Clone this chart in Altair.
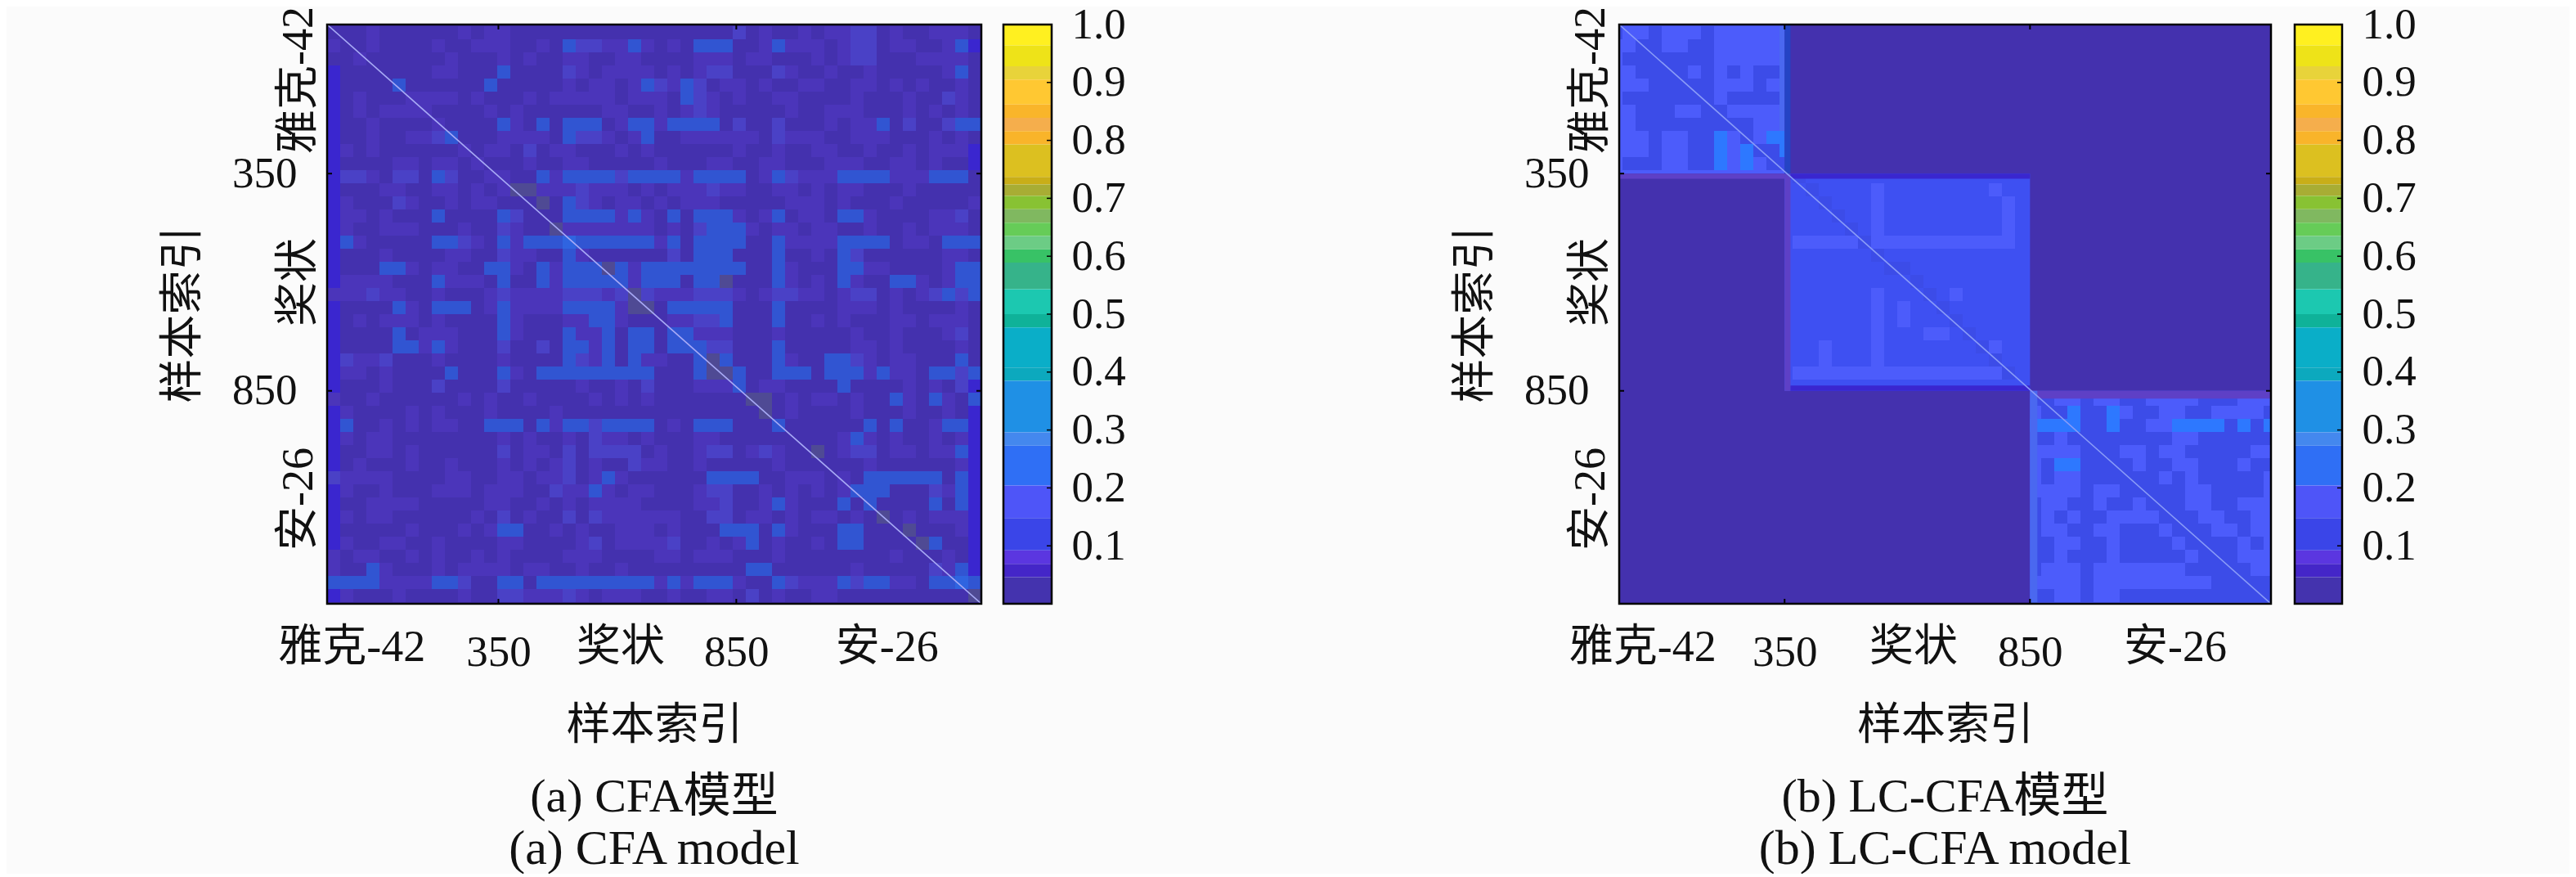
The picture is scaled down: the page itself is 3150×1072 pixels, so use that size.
import altair as alt
import pandas as pd

FONT = "Liberation Serif, Noto Sans CJK SC"
BG = "#FBFBFB"
TXT = "#111111"

# heat colours
level_names = ["bg", "f1", "e", "f2", "f3", "f4", "g", "d", "m", "l", "b", "c", "p", "v"]
level_colors = ["#4431AE", "#4B35BA", "#3A26CF", "#4A41C6", "#3155D2", "#2F64E0", "#4F4A94",
                "#3C4CE8", "#3E50F2", "#4C5CFB", "#2D78FF", "#4A68F0", "#5E40C6", "#2444C4"]

# colour bar bands, read top to bottom
band_edges = [1.0, 0.964, 0.928, 0.905, 0.862, 0.839, 0.816, 0.793, 0.737, 0.724, 0.704,
              0.681, 0.658, 0.635, 0.612, 0.589, 0.543, 0.500, 0.477, 0.408, 0.385,
              0.296, 0.273, 0.204, 0.148, 0.092, 0.069, 0.046, 0.0]
band_colors = ["#FFF020", "#EEE318", "#E8D33A", "#FFC832", "#F9B52A", "#F5AE4C", "#F9B42A",
               "#DCC020", "#C9AE18", "#A8AD34", "#88C233", "#80B860", "#66CC58", "#6CCC85",
               "#38C266", "#36B38A", "#1CC8B0", "#0FB299", "#0AAEC8", "#0CA9BE",
               "#1F90E5", "#4488EE", "#2F6FF5", "#4E55F8", "#3A45E8", "#5B36E0", "#4426C8", "#4433AE"]
colorbar_ticks = [0.1, 0.2, 0.3, 0.4, 0.5, 0.6, 0.7, 0.8, 0.9, 1.0]

# panel (a): raised cells of each row, by brightness level
cfa_rows = [
    {1: [3, 10, 12, 13, 33, 36, 38, 39, 43, 46, 47, 48], 2: [31, 40, 41]},
    {1: [0, 3, 8, 11, 12, 13, 16, 21, 22, 24, 26, 33, 35, 36, 37, 39, 43, 44, 47], 2: [19, 20, 40, 41], 3: [18, 23, 28, 29, 30, 34, 48]},
    {1: [2, 9, 13, 15, 18, 19, 22, 23, 28, 29, 30, 32, 33, 37, 39, 45, 46, 47, 48], 2: [40, 41]},
    {1: [8, 9, 19, 21, 22, 23, 24, 26, 28, 35, 38, 41, 47], 2: [18, 29, 30, 34], 3: [13, 48]},
    {1: [18, 20, 21, 23, 26, 30, 31, 33, 36, 37, 40, 41, 43, 45, 48], 2: [25, 28], 3: [5, 12, 24, 27]},
    {1: [2, 6, 7, 8, 9, 11, 15, 17, 18, 19, 20, 21, 23, 24, 25, 29, 31, 34, 35, 40, 44, 48], 2: [28, 47], 3: [27]},
    {1: [2, 4, 5, 6, 7, 12, 14, 21, 22, 25, 27, 29, 35, 38, 39, 40, 44, 46, 48], 2: [28]},
    {1: [3, 8, 14, 22, 25, 38, 40, 41], 2: [31, 34, 44, 47], 3: [13, 16, 18, 19, 20, 23, 24, 26, 27, 28, 29, 42, 48, 49]},
    {1: [3, 6, 7, 13, 14, 15, 16, 21, 23, 27, 28, 29, 30, 31, 32, 35, 36, 37, 40, 41, 42, 46, 48], 2: [8, 19, 20, 34], 3: [9, 18, 24]},
    {1: [1, 3, 10, 12, 13, 17, 18, 22, 24, 31, 34, 37, 38, 41, 44, 46, 47, 48], 2: [15]},
    {1: [5, 6, 8, 9, 11, 15, 18, 19, 25, 29, 30, 33, 34, 38, 39, 40, 43, 44, 46]},
    {1: [3, 12, 13, 17, 27, 33, 36, 37, 38, 43, 44, 45], 2: [1, 2, 5, 6, 9, 22, 35], 3: [8, 16, 18, 19, 20, 21, 23, 24, 25, 26, 28, 29, 30, 31, 34, 39, 40, 41, 42, 46, 47, 48]},
    {1: [4, 5, 8, 9, 11, 13, 16, 17, 18, 20, 21, 22, 24, 26, 27, 28, 30, 31, 34, 35, 37, 39, 40, 44], 2: [19, 29], 5: [14, 15]},
    {1: [1, 6, 9, 11, 12, 20, 22, 23, 25, 27, 28, 29, 35, 36, 37, 39, 43, 49], 2: [5, 19], 3: [18], 5: [16]},
    {1: [1, 2, 4, 22, 24, 31, 33, 36, 37, 41, 46, 47], 2: [14, 48], 3: [8, 13, 18, 19, 20, 21, 23, 26, 28, 29, 30, 34, 39, 40]},
    {1: [1, 4, 5, 6, 10, 14, 18, 19, 20, 21, 22, 23, 24, 26, 32, 34, 35, 37, 38, 41, 44, 46, 47, 48], 2: [13, 28], 3: [29, 30, 31], 5: [17]},
    {1: [2, 11, 14, 25, 35, 36, 37, 38, 44, 45], 2: [10], 3: [1, 8, 9, 13, 15, 16, 17, 19, 20, 21, 22, 23, 24, 26, 28, 29, 30, 31, 34, 39, 40, 41, 42, 47, 48, 49], 4: [18]},
    {1: [4, 9, 10, 14, 15, 19, 37, 47, 48], 2: [13, 26, 40], 3: [18, 28, 29, 30, 34, 39]},
    {1: [6, 8, 9, 14, 17, 23, 35, 41, 42, 47], 3: [4, 5, 12, 13, 16, 18, 19, 20, 22, 24, 25, 26, 27, 28, 29, 30, 31, 34, 39, 40, 48, 49], 5: [21]},
    {1: [1, 2, 3, 4, 9, 10, 11, 17, 23, 35, 37, 40, 45, 47], 3: [8, 13, 16, 18, 19, 20, 21, 22, 24, 25, 26, 28, 29, 34, 39, 43, 44, 48, 49], 5: [30]},
    {1: [0, 1, 2, 4, 5, 8, 12, 14, 15, 16, 17, 21, 25, 26, 27, 31, 33, 36, 37, 39, 43, 45], 2: [3, 13, 18, 19, 20, 22, 24, 28, 29, 30, 34, 35, 40, 41, 46, 48], 3: [47, 49], 5: [23]},
    {1: [6, 12, 14, 15, 16, 17, 22, 39, 40, 41, 43, 48], 3: [5, 8, 9, 10, 13, 18, 19, 20, 21, 26, 27, 28, 29, 30, 34], 5: [23, 24]},
    {1: [2, 4, 5, 6, 8, 14, 18, 19, 22, 26, 27, 37, 39, 43, 44, 46, 47, 48], 2: [28, 29], 3: [13, 20, 21, 30, 34]},
    {1: [7, 8, 9, 14, 19, 20, 28, 29, 30, 34, 40, 43, 47], 2: [48], 3: [5, 13, 18, 21, 23, 24, 26, 27]},
    {1: [7, 9, 20, 40, 41, 43, 48], 2: [13, 16, 29, 30], 3: [5, 6, 8, 18, 19, 21, 23, 24, 26, 27, 28, 34]},
    {1: [2, 3, 8, 13, 20, 24, 25, 35, 41, 43, 44], 2: [1, 4, 19, 40], 3: [18, 21, 23, 28, 30, 34, 38, 39, 48], 5: [29]},
    {1: [1, 2, 4, 14, 41, 43, 44], 2: [48], 3: [9, 13, 16, 17, 18, 19, 20, 21, 22, 23, 24, 28, 31, 34, 35, 36, 38, 39, 40, 42, 46, 47, 49], 5: [29, 30]},
    {1: [4, 19, 22, 28, 29, 30, 33, 34, 44, 46], 2: [8, 13, 24, 48], 3: [31, 39]},
    {1: [0, 3, 10, 12, 15, 20, 22, 24, 35, 37, 38, 40, 44, 47], 3: [43, 46, 49], 5: [32, 33]},
    {1: [1, 6, 8, 12, 17, 35, 40, 44, 47], 5: [33]},
    {1: [4, 6, 8, 9, 17, 26, 46], 2: [20, 24], 3: [1, 12, 13, 14, 16, 18, 19, 21, 22, 23, 24, 28, 29, 30, 34, 41, 43, 47, 48]},
    {1: [1, 3, 4, 13, 15, 18, 21, 22, 24, 28, 29, 39, 41, 43, 46, 48], 2: [20], 3: [40]},
    {1: [3, 4, 6, 15, 16, 25, 28, 32, 34, 39, 43, 44, 46, 47], 2: [13, 18, 20, 21, 22, 23, 29, 30, 33, 40, 41], 3: [48], 5: [37]},
    {1: [2, 6, 9, 13, 15, 17, 20, 24, 25, 28, 34, 41, 48], 2: [18, 23]},
    {1: [1, 2, 3, 4, 9, 10, 13, 14, 16, 17, 20, 22, 35, 36, 37, 39], 2: [0, 18], 3: [21, 29, 30, 31, 32, 41, 42, 43, 44, 45, 46, 48]},
    {1: [1, 4, 8, 9, 10, 12, 13, 14, 18, 19, 21, 23, 24, 28, 33, 35, 37, 39, 47], 2: [17, 29, 30, 46], 3: [20, 40, 41, 42, 48]},
    {1: [3, 4, 5, 6, 12, 13, 16, 18, 20, 21, 22, 23, 28, 29, 33, 35], 2: [30], 3: [34, 39, 41, 46, 48]},
    {1: [1, 3, 4, 11, 15, 21, 22, 23, 24, 25, 26, 32, 33, 35, 37, 38, 40, 44, 46, 47, 48], 2: [13, 18, 20, 29, 30], 5: [42]},
    {1: [6, 10, 12, 17, 19, 22, 23, 24, 26, 35, 48], 3: [13, 14, 30, 31, 32, 34, 39, 40], 5: [44]},
    {1: [1, 4, 5, 8, 13, 14, 19, 22, 23, 24, 25, 29, 31, 34, 37], 2: [20, 26], 3: [32, 39, 40, 46], 5: [45]},
    {1: [0, 2, 3, 6, 8, 11, 13, 18, 19, 20, 25, 26, 28, 29, 30, 34, 43, 47]},
    {1: [0, 4, 8, 10, 11, 12, 13, 15, 16, 19, 22, 40, 47], 2: [46], 3: [3, 32, 33, 48]},
    {1: [4, 5, 6, 7, 25, 27, 31, 36, 37, 38, 43, 44], 2: [10, 35, 40], 3: [0, 1, 2, 3, 8, 9, 13, 14, 16, 17, 18, 19, 20, 21, 22, 23, 24, 26, 28, 29, 30, 34, 39, 41, 42, 46, 47, 49], 4: [48]},
    {1: [1, 5, 10, 15, 16, 17, 19, 21, 22, 23, 26, 29, 30, 34, 37, 38], 2: [13, 14, 18, 32], 5: [49]},
]
cfa_left_edge_rows = list(range(3, 44))
cfa_right_edge_rows = [1, 7, 9, 10, 16, 18, 19, 20, 26, 27, 28] + list(range(29, 43))

# panel (b): base level of each block, and cells that differ, by grid row
lc_blocks = [(13, 350, 7, 350, "l"), (350, 850, 350, 850, "m"), (850, 1341, 850, 1340, "l")]
lc_dark = {
    0: [0, 3, 7], 1: [2, 3, 6, 7], 2: [1, 2, 3, 4, 5, 6, 7], 3: [2, 3, 4, 5, 7, 9, 11, 12], 4: [3, 4, 5, 6, 7, 11],
    5: [1, 2, 3, 4, 5, 6, 7, 9, 10, 11, 12], 6: [2, 3, 4, 7, 8], 7: [2, 3, 4, 5, 6, 7, 8, 9, 10],
    8: [3, 6, 7, 10], 9: [3, 6, 7, 11, 12], 10: [1, 2, 3, 6, 7, 12, 13],
    11: [14], 12: [15], 13: [16], 14: [17], 15: [18], 16: [19], 17: [20], 18: [21, 22], 19: [23], 20: [24],
    21: [25], 22: [26], 23: [27], 24: [28], 25: [29], 26: [30],
    28: [32, 33, 36, 39, 40, 45, 46, 47], 29: [33, 34, 36, 37, 40, 41, 44, 45, 50],
    30: [36, 37, 39, 40, 47, 49], 31: [32, 33, 35, 36, 37, 38, 39, 40, 41, 42, 45, 46, 47, 48, 49, 50],
    32: [36, 37, 38, 41, 44, 45, 46, 47, 48], 33: [33, 36, 37, 38, 39, 41, 42, 45, 46, 47, 49, 50],
    34: [33, 36, 37, 38, 39, 40, 41, 43, 45, 46, 47, 48, 49], 35: [36, 39, 40, 41, 42, 43, 46, 47, 48, 49],
    36: [32, 35, 36, 38, 39, 41, 42, 43, 46, 47], 37: [32, 34, 36, 37, 42, 43, 44, 47, 48],
    38: [32, 35, 36, 39, 40, 41, 43, 44, 45, 48], 39: [32, 33, 36, 37, 39, 40, 41, 42, 44, 45, 46, 47, 49],
    40: [32, 33, 35, 36, 37, 39, 40, 41, 42, 43, 45, 46, 47], 41: [32, 36, 44, 45, 46, 47, 48],
    42: [36, 46, 47, 48, 49, 50], 43: [32, 33, 36, 39, 40, 41, 42, 43, 44, 45, 46, 47, 48, 49, 50],
}
lc_bright = {
    8: [8, 12, 13], 9: [8, 10, 13], 10: [8, 10], 29: [35, 38], 30: [32, 33, 34, 35, 38, 43, 44, 45, 46, 48, 50], 33: [34, 35],
}
lc_light = {
    16: list(range(14, 31)), 26: list(range(14, 31)), 12: [20, 29], 13: [20, 30], 14: [20, 30], 15: [20, 30],
    21: [20, 22], 22: [20, 22], 23: [20, 24, 25], 24: [16, 20, 29], 25: [16, 20, 29], 20: [20, 26],
    0: [13], 1: [13], 2: [13], 3: [13], 4: [13], 5: [13], 6: [13], 7: [13],
}
lc_edges = [(13, 350, 350, 362, "p"), (350, 362, 350, 850, "p"), (350, 362, 7, 350, "v"),
            (362, 850, 350, 362, "e"), (362, 850, 838, 850, "e"), (850, 1341, 850, 868, "p"),
            (850, 865, 850, 1340, "c")]

axis_ticks = [350, 850]
x_classes = {"a": [42, 607, 1167], "b": [61, 613, 1146]}
y_classes = {"a": [135, 600, 1099], "b": [135, 600, 1099]}
class_names = ["雅克-42", "奖状", "安-26"]
axis_title = "样本索引"
captions_a = ["(a) CFA模型", "(a) CFA model"]
captions_b = ["(b) LC-CFA模型", "(b) LC-CFA model"]

H = 708
CELL = 16


def a_cells():
    x0, kx, y0, ky = -10, 800 / 1375, 7, H / 1333
    out = [dict(x=-10, x2=1365, y=7, y2=1340, lv="bg")]
    names = {1: "f1", 2: "f2", 3: "f3", 4: "f4", 5: "g"}

    def cell(r, c, lv):
        return dict(x=x0 + c * CELL / kx, x2=x0 + (c + 1) * CELL / kx,
                    y=y0 + (2 + CELL * r) / ky, y2=y0 + (2 + CELL * (r + 1)) / ky, lv=lv)
    for r in cfa_left_edge_rows:
        out.append(cell(r, 0, "e"))
    for r in cfa_right_edge_rows:
        out.append(cell(r, 49, "e"))
    for r, row in enumerate(cfa_rows):
        for lev, cols in row.items():
            for c in cols:
                out.append(cell(r, c, names[lev]))
    return out


def b_cells():
    x0, kx, y0, ky = 13, 797 / 1328, 7, H / 1333
    out = [dict(x=13, x2=1341, y=7, y2=1340, lv="bg")]
    for b in lc_blocks:
        out.append(dict(x=b[0], x2=b[1], y=b[2], y2=b[3], lv=b[4]))

    def add(r, c, lv):
        xa, xb = x0 + (CELL * c - 12) / kx, x0 + (CELL * (c + 1) - 12) / kx
        ya, yb = y0 + (2 + CELL * r) / ky, y0 + (2 + CELL * (r + 1)) / ky
        for b in lc_blocks:
            xl, xr, yl, yr = max(xa, b[0]), min(xb, b[1]), max(ya, b[2]), min(yb, b[3])
            if xr > xl and yr > yl:
                out.append(dict(x=xl, x2=xr, y=yl, y2=yr, lv=lv))
    for lv, table in (("c", lc_light), ("d", lc_dark), ("b", lc_bright)):
        for r, cols in table.items():
            for c in cols:
                # in the middle block the lighter cells are the plain light level
                add(r, c, "l" if (lv == "c" and r > 10) else lv)
    for e in lc_edges:
        out.append(dict(x=e[0], x2=e[1], y=e[2], y2=e[3], lv=e[4]))
    return out


def panel(cells, xdom, ydom, width, xcls, ycls, caps, diag_color):
    xs = alt.Scale(domain=xdom, nice=False, zero=False)
    ys = alt.Scale(domain=ydom, reverse=True, nice=False, zero=False)
    ax = alt.Axis(values=axis_ticks, ticks=False, domain=False, grid=False, labelFont=FONT, labelFontSize=53,
                  labelColor=TXT, labelPadding=33, title=axis_title, titleFont=FONT, titleFontSize=54,
                  titleColor=TXT, titleFontWeight="normal", titlePadding=36, labelFlush=False, labelOverlap=False)
    ay = alt.Axis(values=axis_ticks, ticks=False, domain=False, grid=False, labelFont=FONT, labelFontSize=53,
                  labelColor=TXT, labelPadding=37, title=axis_title, titleFont=FONT, titleFontSize=54,
                  titleColor=TXT, titleFontWeight="normal", titlePadding=32, labelFlush=False, labelOverlap=False)
    rects = alt.Chart(pd.DataFrame(cells)).mark_rect(clip=True, strokeWidth=0).encode(
        x=alt.X("x:Q", scale=xs, axis=ax),
        x2="x2:Q",
        y=alt.Y("y:Q", scale=ys, axis=ay),
        y2="y2:Q",
        color=alt.Color("lv:N", scale=alt.Scale(domain=level_names, range=level_colors), legend=None),
    )
    corners = pd.DataFrame({"x": [xdom[0]], "x2": [xdom[1]], "y": [ydom[0]], "y2": [ydom[1]]})
    diag = alt.Chart(corners).mark_rule(color=diag_color, strokeWidth=1.6, clip=True).encode(
        x="x:Q", x2="x2:Q", y="y:Q", y2="y2:Q")
    t = pd.DataFrame({"t": axis_ticks})
    tb = alt.Chart(t).mark_rule(color="black", strokeWidth=2).encode(x="t:Q", y=alt.value(H), y2=alt.value(H - 6))
    tt = alt.Chart(t).mark_rule(color="black", strokeWidth=2).encode(x="t:Q", y=alt.value(0), y2=alt.value(6))
    tl = alt.Chart(t).mark_rule(color="black", strokeWidth=2).encode(y="t:Q", x=alt.value(0), x2=alt.value(6))
    tr = alt.Chart(t).mark_rule(color="black", strokeWidth=2).encode(y="t:Q", x=alt.value(width), x2=alt.value(width - 6))
    frame = alt.Chart(corners).mark_rect(fillOpacity=0, stroke="black", strokeWidth=2.5).encode(
        x="x:Q", x2="x2:Q", y="y:Q", y2="y2:Q")
    xt = alt.Chart(pd.DataFrame({"v": xcls, "n": class_names})).mark_text(
        font=FONT, fontSize=54, color=TXT, baseline="alphabetic").encode(x="v:Q", y=alt.value(H + 70), text="n:N")
    yt = alt.Chart(pd.DataFrame({"v": ycls, "n": class_names})).mark_text(
        font=FONT, fontSize=54, color=TXT, angle=270, baseline="alphabetic").encode(y="v:Q", x=alt.value(-18), text="n:N")
    caption_layers = [
        alt.Chart(pd.DataFrame({"n": [caps[i]]})).mark_text(font=FONT, fontSize=fs, color=TXT, baseline="alphabetic").encode(
            x=alt.value(width / 2), y=alt.value(H + dy), text="n:N")
        for i, (dy, fs) in enumerate([(254, 58), (318, 60)])
    ]
    return alt.layer(rects, diag, frame, tb, tt, tl, tr, xt, yt, *caption_layers).properties(width=width, height=H)


def colorbar(width):
    df = pd.DataFrame({"y": band_edges[1:], "y2": band_edges[:-1], "c": band_colors})
    bars = alt.Chart(df).mark_rect(strokeWidth=0).encode(
        x=alt.value(0), x2=alt.value(width),
        y=alt.Y("y:Q", scale=alt.Scale(domain=[0, 1], nice=False),
                axis=alt.Axis(orient="right", values=colorbar_ticks, format=".1f", ticks=False, domain=False, grid=False,
                              labelFont=FONT, labelFontSize=53, labelColor=TXT, labelPadding=24, title=None,
                              labelFlush=False, labelOverlap=False)),
        y2="y2:Q",
        color=alt.Color("c:N", scale=None),
    )
    t = alt.Chart(pd.DataFrame({"t": colorbar_ticks})).mark_rule(color="black", strokeWidth=1.5).encode(
        y="t:Q", x=alt.value(width), x2=alt.value(width - 6))
    frame = alt.Chart(pd.DataFrame({"y": [0], "y2": [1]})).mark_rect(fillOpacity=0, stroke="black", strokeWidth=2.5).encode(
        x=alt.value(0), x2=alt.value(width), y="y:Q", y2="y2:Q")
    return alt.layer(bars, t, frame).properties(width=width, height=H)


def spacer(w, h=H):
    return alt.Chart(pd.DataFrame({"a": [0]})).mark_point(opacity=0).encode(
        x=alt.X("a:Q", axis=None), y=alt.Y("a:Q", axis=None)).properties(width=w, height=h)


chart = alt.hconcat(
    spacer(392),
    panel(a_cells(), [-10, 1365], [7, 1340], 800, x_classes["a"], y_classes["a"], captions_a, "#A8AAF6"),
    spacer(27), colorbar(59), spacer(694),
    panel(b_cells(), [13, 1341], [7, 1340], 797, x_classes["b"], y_classes["b"], captions_b, "#8A9CF8"),
    spacer(29), colorbar(58), spacer(278, 1034),
    spacing=0, bounds="flush",
).configure_view(stroke=None).properties(background=BG, padding={"left": 0, "right": 0, "bottom": 0, "top": -4})

chart.save("out.html", embed_options={"renderer": "svg", "actions": False})
